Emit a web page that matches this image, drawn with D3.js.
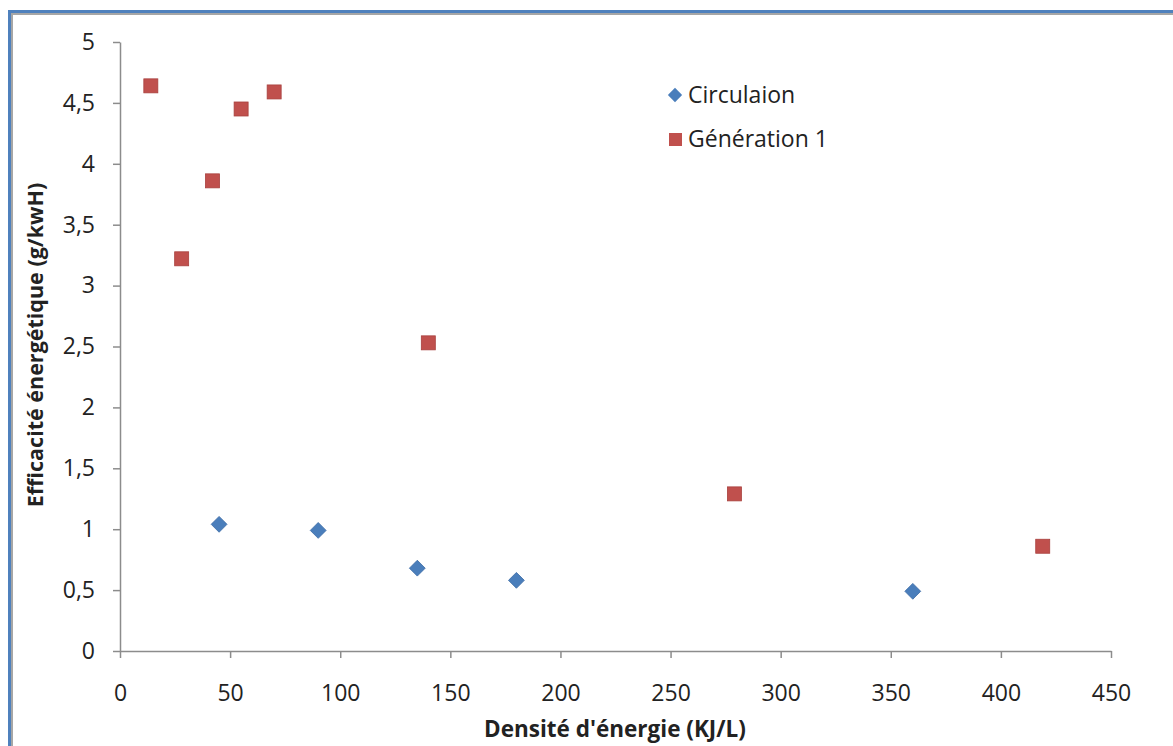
<!DOCTYPE html>
<html><head><meta charset="utf-8">
<script src="https://cdn.jsdelivr.net/npm/d3@7"></script>
<style>body{margin:0;background:#fff}svg{display:block}</style>
</head><body>
<script>
const circX = [45, 90, 135, 180, 360];
const circY = [1.04, 0.99, 0.68, 0.58, 0.49];
const genX = [14, 28, 42, 55, 70, 140, 279, 419];
const genY = [4.64, 3.22, 3.86, 4.45, 4.59, 2.53, 1.29, 0.86];
const xTicks = [0, 50, 100, 150, 200, 250, 300, 350, 400, 450];
const yTicks = [0, 0.5, 1, 1.5, 2, 2.5, 3, 3.5, 4, 4.5, 5];
const seriesNames = ["Circulaion", "Génération 1"];
const xTitle = "Densité d'énergie (KJ/L)";
const yTitle = "Efficacité énergétique (g/kwH)";

const W = 1173, H = 746;
const svg = d3.select("body").append("svg").attr("width", W).attr("height", H);
const font = "'Open Sans', 'Liberation Sans', sans-serif";

// frame
svg.append("rect").attr("x", 11).attr("y", 13).attr("width", W).attr("height", 2).attr("fill", "#a6a6a6");
svg.append("rect").attr("x", 11).attr("y", 13).attr("width", 2).attr("height", H).attr("fill", "#a6a6a6");
svg.append("rect").attr("x", 8).attr("y", 10).attr("width", W).attr("height", 3).attr("fill", "#4f81bd");
svg.append("rect").attr("x", 8).attr("y", 10).attr("width", 3).attr("height", H).attr("fill", "#4f81bd");

const x = d3.scaleLinear().domain([0, 450]).range([120, 1111]);
const y = d3.scaleLinear().domain([0, 5]).range([651, 42]);
const fmt = d => String(d).replace(".", ",");

const gx = svg.append("g").attr("transform", "translate(0,651)")
  .call(d3.axisBottom(x).tickValues(xTicks).tickFormat(fmt).tickSize(7).tickPadding(27).tickSizeOuter(0));
const gy = svg.append("g").attr("transform", "translate(120,0)")
  .call(d3.axisLeft(y).tickValues(yTicks).tickFormat(fmt).tickSize(7).tickPadding(18).tickSizeOuter(0));
[gx, gy].forEach(g => {
  g.selectAll("path,line").attr("stroke", "#8c8c8c").attr("stroke-width", 1.5);
  g.selectAll("text").attr("font-family", font).attr("font-size", 23).attr("fill", "#222");
});

svg.append("text").attr("x", 615).attr("y", 737).attr("text-anchor", "middle")
  .attr("font-family", font).attr("font-weight", "bold").attr("font-size", 22.5).attr("fill", "#222").text(xTitle);
svg.append("text").attr("transform", "translate(43,345) rotate(-90)").attr("text-anchor", "middle")
  .attr("font-family", font).attr("font-weight", "bold").attr("font-size", 21.5).attr("fill", "#222").text(yTitle);

const blue = "#4a7ebb", red = "#c0504d";
const diamond = d3.symbol().type(d3.symbolDiamond2).size(160);
const circ = circX.map((v, i) => [v, circY[i]]);
const gen = genX.map((v, i) => [v, genY[i]]);

svg.append("g").selectAll("path").data(circ).join("path")
  .attr("d", diamond).attr("transform", d => `translate(${x(d[0])},${y(d[1])})`)
  .attr("fill", blue).attr("stroke", "#3a6aa5").attr("stroke-width", 0.8);
svg.append("g").selectAll("rect").data(gen).join("rect")
  .attr("x", d => x(d[0]) - 7).attr("y", d => y(d[1]) - 7).attr("width", 14).attr("height", 14)
  .attr("fill", red).attr("stroke", "#a8403d").attr("stroke-width", 0.8);

// legend
const lg = svg.append("g");
lg.append("path").attr("d", d3.symbol().type(d3.symbolDiamond2).size(130)).attr("transform", "translate(675,95)").attr("fill", blue);
lg.append("rect").attr("x", 669).attr("y", 133).attr("width", 13).attr("height", 13).attr("fill", red);
lg.append("text").attr("x", 688).attr("y", 103).attr("font-family", font).attr("font-size", 23).attr("fill", "#222").text(seriesNames[0]);
lg.append("text").attr("x", 688).attr("y", 147).attr("font-family", font).attr("font-size", 23).attr("fill", "#222").text(seriesNames[1]);
</script>
</body></html>
